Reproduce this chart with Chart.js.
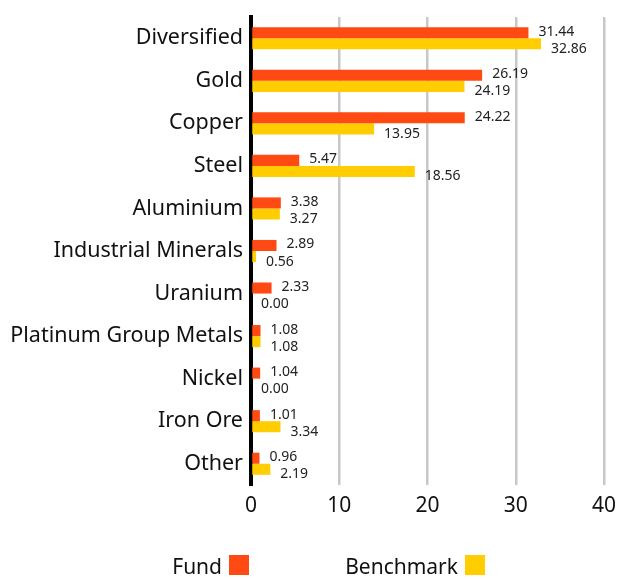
<!DOCTYPE html>
<html>
<head>
<meta charset="utf-8">
<script src="https://cdn.jsdelivr.net/npm/chart.js@4"></script>
<style>
html,body{margin:0;padding:0;background:#fff;}
#wrap{position:relative;width:617px;height:579px;}
</style>
</head>
<body>
<div id="wrap"><canvas id="c" width="617" height="579"></canvas></div>
<script>
const categories = ["Diversified","Gold","Copper","Steel","Aluminium","Industrial Minerals","Uranium","Platinum Group Metals","Nickel","Iron Ore","Other"];
const fundValues = [31.44,26.19,24.22,5.47,3.38,2.89,2.33,1.08,1.04,1.01,0.96];
const benchmarkValues = [32.86,24.19,13.95,18.56,3.27,0.56,0.00,1.08,0.00,3.34,2.19];
const seriesNames = ["Fund","Benchmark"];
const xTicks = [0,10,20,30,40];

const FONT = "'Noto Sans', sans-serif";
const RED = '#FF4A14';
const YELLOW = '#FFCD00';

const valueLabels = {
  id:'valueLabels',
  afterDatasetsDraw(chart){
    const ctx = chart.ctx;
    ctx.save();
    ctx.font = "14px " + FONT;
    ctx.fillStyle = '#222';
    ctx.textBaseline = 'middle';
    ctx.textAlign = 'left';
    chart.data.datasets.forEach((ds,di)=>{
      const meta = chart.getDatasetMeta(di);
      meta.data.forEach((el,i)=>{
        const dy = di===0 ? -1 : 5;
        ctx.fillText(ds.data[i].toFixed(2), el.x + 10, el.y + dy);
      });
    });
    ctx.restore();
  }
};

const bottomLegend = {
  id:'bottomLegend',
  afterDraw(chart){
    const ctx = chart.ctx;
    ctx.save();
    ctx.font = "21px " + FONT;
    ctx.textBaseline = 'alphabetic';
    ctx.textAlign = 'right';
    const items = [
      {name: seriesNames[0], color: RED, boxX: 229},
      {name: seriesNames[1], color: YELLOW, boxX: 465}
    ];
    items.forEach(it=>{
      ctx.fillStyle = '#111';
      ctx.fillText(it.name, it.boxX - 7, 574);
      ctx.fillStyle = it.color;
      ctx.fillRect(it.boxX, 555, 20, 20);
    });
    ctx.restore();
  }
};

new Chart(document.getElementById('c'), {
  type:'bar',
  data:{
    labels: categories,
    datasets:[
      {label: seriesNames[0], data: fundValues, backgroundColor: RED, categoryPercentage:0.52, barPercentage:1},
      {label: seriesNames[1], data: benchmarkValues, backgroundColor: YELLOW, categoryPercentage:0.52, barPercentage:1}
    ]
  },
  options:{
    indexAxis:'y',
    responsive:false,
    animation:false,
    layout:{padding:{top:17,right:13,left:0,bottom:0}},
    plugins:{legend:{display:false}, tooltip:{enabled:false}},
    scales:{
      x:{
        min:0,max:40,
        afterBuildTicks(scale){ scale.ticks = xTicks.map(v=>({value:v})); },
        afterFit(scale){ scale.height = 94; scale.paddingRight = 0; scale.paddingLeft = 0; },
        grid:{color:'#c8c8c8', lineWidth:2.5, drawTicks:false},
        border:{display:false},
        ticks:{font:{size:21, family:FONT}, color:'#111', padding:8}
      },
      y:{
        afterFit(scale){ scale.width = 251; scale.paddingTop = 0; scale.paddingBottom = 0; },
        grid:{display:false, drawTicks:false},
        border:{display:true, color:'#000', width:4},
        ticks:{font:{size:21.5, family:FONT}, color:'#111', padding:8}
      }
    }
  },
  plugins:[valueLabels, bottomLegend]
});
</script>
</body>
</html>
